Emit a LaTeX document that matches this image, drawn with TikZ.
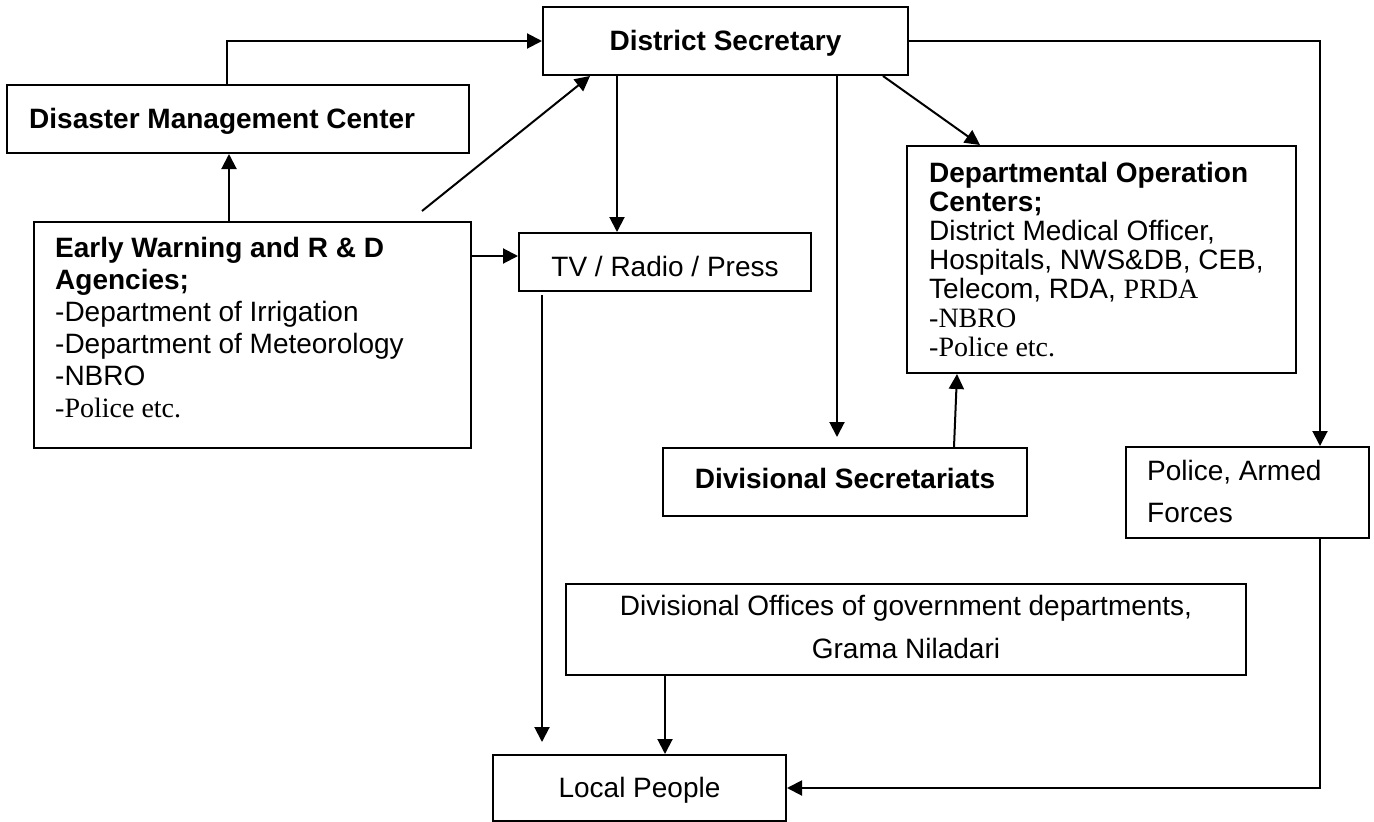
\documentclass[tikz,border=0pt]{standalone}
\usepackage{fontspec}
\setmainfont{Liberation Sans}
\newfontfamily\tnr{Liberation Serif}
\usetikzlibrary{arrows.meta}
\begin{document}
\begin{tikzpicture}[x=1pt,y=-1pt,
  box/.style={draw, line width=2pt, inner sep=0pt},
  txt/.style={inner sep=0pt, font=\fontsize{28}{32}\selectfont},
  conn/.style={line width=2pt},
  arr/.style={conn, -{Triangle[length=15pt,width=15pt]}}]
\useasboundingbox (0,0) rectangle (1374,822);

% boxes
\node[box, minimum width=365pt, minimum height=68pt] (ds) at (725.5,41) {};
\node[box, minimum width=462pt, minimum height=68pt] (dmc) at (238,119) {};
\node[box, minimum width=437pt, minimum height=226pt] (ew) at (252.5,335) {};
\node[box, minimum width=292pt, minimum height=58pt] (tv) at (665,262) {};
\node[box, minimum width=364pt, minimum height=68pt] (divsec) at (845,482) {};
\node[box, minimum width=389pt, minimum height=227pt] (dept) at (1101.5,259.5) {};
\node[box, minimum width=243pt, minimum height=91pt] (police) at (1247.5,492.5) {};
\node[box, minimum width=680pt, minimum height=91pt] (divoff) at (906,629.5) {};
\node[box, minimum width=293pt, minimum height=66pt] (lp) at (639.5,788) {};

% texts
\node[txt, anchor=base] (dst) at (725.5,50) {\bfseries District Secretary};
\node[txt, anchor=base west] (dmct) at (29,128) {\bfseries Disaster Management Center};
\node[txt, anchor=base west] (ew1) at (55,257) {\bfseries Early Warning and R \& D};
\node[txt, anchor=base west] (ew2) at (55,289) {\bfseries Agencies;};
\node[txt, anchor=base west] (ew3) at (55,321) {-Department of Irrigation};
\node[txt, anchor=base west] (ew4) at (55,353) {-Department of Meteorology};
\node[txt, anchor=base west] (ew5) at (55,385) {-NBRO};
\node[txt, anchor=base west] (ew6) at (55,417) {\tnr -Police etc.};
\node[txt, anchor=base] (tvt) at (665,276) {TV / Radio / Press};
\node[txt, anchor=base] (divsect) at (845,488) {\bfseries Divisional Secretariats};
\node[txt, anchor=base west] (dp1) at (929,182) {\bfseries Departmental Operation};
\node[txt, anchor=base west] (dp2) at (929,211) {\bfseries Centers;};
\node[txt, anchor=base west] (dp3) at (929,240) {District Medical Officer,};
\node[txt, anchor=base west] (dp4) at (929,269) {Hospitals, NWS\&DB, CEB,};
\node[txt, anchor=base west] (dp5) at (929,298) {Telecom, RDA, {\tnr PRDA}};
\node[txt, anchor=base west] (dp6) at (929,327) {\tnr -NBRO};
\node[txt, anchor=base west] (dp7) at (929,356) {\tnr -Police etc.};
\node[txt, anchor=base west] (po1) at (1147,480) {Police, Armed};
\node[txt, anchor=base west] (po2) at (1147,522) {Forces};
\node[txt, anchor=base] (do1) at (906,615) {Divisional Offices of government departments,};
\node[txt, anchor=base] (do2) at (906,658) {Grama Niladari};
\node[txt, anchor=base] (lpt) at (639.5,797) {Local People};

% helper coordinates
\coordinate (c1) at (227,0);
\coordinate (c2) at (229,0);
\coordinate (c3) at (422,211);
\coordinate (c4) at (590,0);
\coordinate (c5) at (0,256);
\coordinate (c6) at (617,0);
\coordinate (c7) at (837,0);
\coordinate (c7e) at (837,437);
\coordinate (c8) at (883,0);
\coordinate (c9) at (980,0);
\coordinate (c10) at (1320,0);
\coordinate (c11) at (954,0);
\coordinate (c12) at (957,0);
\coordinate (c13) at (542,0);
\coordinate (c14) at (542,742);
\coordinate (c15) at (665,0);

% connectors
\draw[arr] (dmc.north -| c1) |- (ds.west);
\draw[arr] (ew.north -| c2) -- (dmc.south -| c2);
\draw[arr] (c3) -- (ds.south -| c4);
\draw[arr] (ew.east |- c5) -- (tv.west |- c5);
\draw[arr] (ds.south -| c6) -- (tv.north -| c6);
\draw[arr] (ds.south -| c7) -- (c7e);
\draw[arr] (ds.south -| c8) -- (dept.north -| c9);
\draw[arr] (ds.east) -| (police.north -| c10);
\draw[arr] (divsec.north -| c11) -- (dept.south -| c12);
\draw[arr] ([yshift=-3pt]tv.south -| c13) -- (c14);
\draw[arr] (divoff.south -| c15) -- (lp.north -| c15);
\draw[arr] (police.south -| c10) |- (lp.east);
\end{tikzpicture}
\end{document}
